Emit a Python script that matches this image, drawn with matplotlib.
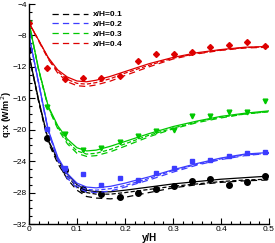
import matplotlib
matplotlib.use("Agg")
import matplotlib.pyplot as plt
from matplotlib.ticker import MultipleLocator

plt.rcParams['font.family'] = ['Liberation Sans', 'DejaVu Sans']
plt.rcParams['lines.scale_dashes'] = False

# wall-normal positions of the model curves
y_line = [0, 0.02, 0.04, 0.06, 0.08, 0.1, 0.12, 0.14, 0.17, 0.2, 0.25, 0.3, 0.35, 0.4, 0.45, 0.5]

# solid / short-dash / long-dash curves for each station
red_solid = [-6.4, -8.6, -10.8, -12.4, -13.3, -13.8, -13.9, -13.7, -13.2, -12.6, -11.6, -10.8, -10.2, -9.8, -9.5, -9.4]
red_dash1 = [-6.4, -8.6, -10.9, -12.6, -13.6, -14.1, -14.2, -14.0, -13.5, -12.8, -11.8, -10.9, -10.3, -9.85, -9.55, -9.45]
red_dash2 = [-6.4, -8.7, -11.0, -12.8, -13.9, -14.4, -14.5, -14.3, -13.8, -13.1, -12.0, -11.0, -10.35, -9.9, -9.6, -9.5]

green_solid = [-6.4, -12.3, -17.0, -19.5, -21.2, -22.3, -22.7, -22.6, -22.1, -21.5, -20.5, -19.6, -18.9, -18.3, -17.9, -17.6]
green_dash1 = [-6.4, -12.3, -17.1, -19.7, -21.5, -22.7, -23.1, -23.0, -22.5, -21.8, -20.7, -19.8, -19.0, -18.4, -18.0, -17.7]
green_dash2 = [-6.4, -12.4, -17.2, -19.9, -21.8, -23.0, -23.4, -23.3, -22.8, -22.1, -20.9, -19.9, -19.1, -18.5, -18.0, -17.7]

blue_solid = [-8.0, -14.0, -20.0, -23.5, -25.6, -26.8, -27.3, -27.4, -27.2, -26.8, -26.0, -25.1, -24.3, -23.6, -23.1, -22.9]
blue_dash1 = [-8.0, -14.0, -20.1, -23.7, -25.9, -27.1, -27.6, -27.7, -27.5, -27.1, -26.2, -25.2, -24.4, -23.7, -23.2, -23.0]
blue_dash2 = [-8.0, -14.1, -20.2, -23.9, -26.2, -27.4, -27.9, -28.0, -27.8, -27.3, -26.4, -25.4, -24.5, -23.8, -23.3, -23.0]

black_solid = [-10.5, -16.2, -21.3, -23.8, -25.6, -27.0, -27.7, -27.9, -27.9, -27.7, -27.3, -26.9, -26.6, -26.3, -26.1, -25.9]
black_dash1 = [-10.5, -16.3, -21.4, -24.0, -25.9, -27.3, -28.0, -28.2, -28.2, -28.0, -27.6, -27.2, -26.9, -26.6, -26.4, -26.3]
black_dash2 = [-10.5, -16.4, -21.6, -24.3, -26.3, -27.7, -28.5, -28.7, -28.8, -28.6, -28.0, -27.4, -27.0, -26.7, -26.5, -26.4]

# measured points
y_exp = [0, 0.038, 0.076, 0.113, 0.151, 0.189, 0.227, 0.265, 0.303, 0.340, 0.378, 0.416, 0.454, 0.492]
red_exp = [-6.4, -12.2, -13.6, -13.4, -13.4, -13.2, -11.3, -10.3, -10.3, -10.1, -9.5, -9.2, -8.9, -9.3]
green_exp = [-6.4, -17.1, -20.6, -22.6, -22.3, -21.6, -20.8, -20.2, -20.0, -18.3, -18.3, -17.7, -17.7, -16.3]
blue_exp = [-8.0, -19.9, -24.9, -25.6, -27.0, -26.2, -26.4, -25.5, -24.9, -24.0, -23.8, -23.4, -23.0, -22.9]
black_exp = [-9.8, -21.1, -25.1, -27.6, -28.2, -28.6, -28.0, -27.5, -27.1, -26.5, -26.3, -27.0, -26.6, -25.9]

labels = ['x/H=0.1', 'x/H=0.2', 'x/H=0.3', 'x/H=0.4']
colors = ['black', '#3c3cff', '#00c800', '#dd0000']
markers = ['o', 's', 'v', 'D']
msizes = [4.0, 3.0, 3.4, 3.0]

series = [
    (black_solid, black_dash1, black_dash2, black_exp),
    (blue_solid, blue_dash1, blue_dash2, blue_exp),
    (green_solid, green_dash1, green_dash2, green_exp),
    (red_solid, red_dash1, red_dash2, red_exp),
]

fig = plt.figure(figsize=(2.75, 2.43), dpi=100)
ax = fig.add_axes([29 / 275, 19 / 243, 240 / 275, 220 / 243])

handles = []
for (solid, d1, d2, exp), c, m, ms, lab in zip(series, colors, markers, msizes, labels):
    ax.plot(y_line, solid, color=c, lw=0.9)
    ax.plot(y_line, d1, color=c, lw=0.9, dashes=(3.0, 1.6))
    h, = ax.plot(y_line, d2, color=c, lw=0.9, dashes=(4.5, 3.0), label=lab)
    handles.append(h)
    ax.plot(y_exp, exp, ls='none', marker=m, color=c, ms=ms)

ax.set_xlim(0, 0.5)
ax.set_ylim(-32, -4)
ax.xaxis.set_major_locator(MultipleLocator(0.1))
ax.xaxis.set_minor_locator(MultipleLocator(0.02))
ax.yaxis.set_major_locator(MultipleLocator(4))
ax.yaxis.set_minor_locator(MultipleLocator(1))
ax.xaxis.set_major_formatter(plt.FuncFormatter(lambda v, p: '0' if abs(v) < 1e-9 else f'{v:.1f}'))
ax.tick_params(which='both', direction='in', labelsize=6, pad=1.5, width=0.8)
ax.tick_params(which='major', length=4)
ax.tick_params(which='minor', length=2)
for s in ['top', 'right']:
    ax.spines[s].set_visible(False)
for s in ['left', 'bottom']:
    ax.spines[s].set_linewidth(1.0)

ax.set_xlabel('y/H', fontsize=7, fontweight='bold', labelpad=0)
ax.set_ylabel('q:x (W/m$^2$)', fontsize=6.5, fontweight='bold', va='center')
ax.yaxis.set_label_coords(-0.092, 0.5)

ax.legend(handles=handles, loc='upper left', bbox_to_anchor=(0.08, 0.985), frameon=False,
          prop={'size': 6, 'weight': 'bold'}, handlelength=4.4, handletextpad=0.6,
          labelspacing=0.25, borderaxespad=0)

fig.savefig('out.png', dpi=100)
